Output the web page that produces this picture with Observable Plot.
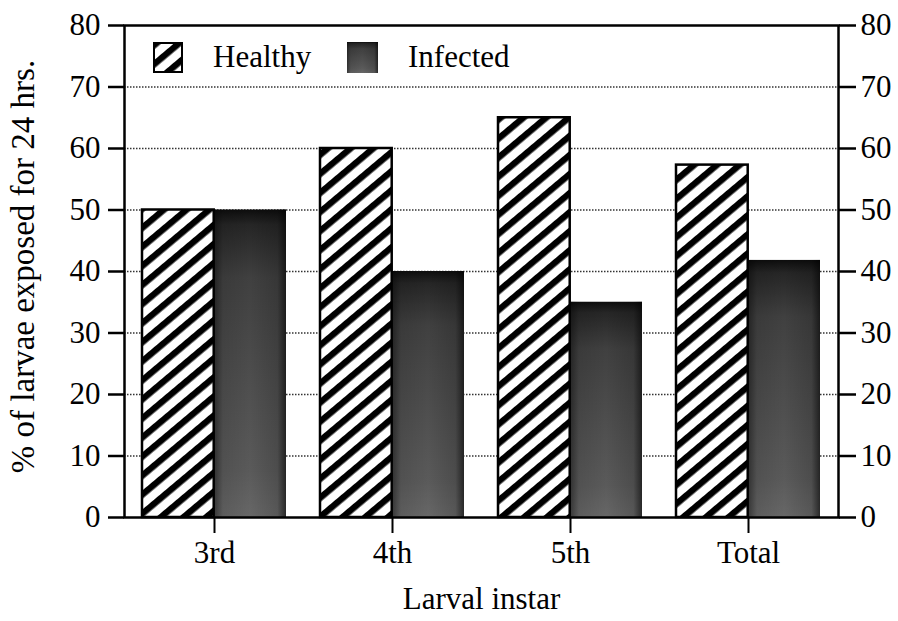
<!DOCTYPE html>
<html><head><meta charset="utf-8">
<script src="https://cdn.jsdelivr.net/npm/d3@7"></script>
<script src="https://cdn.jsdelivr.net/npm/@observablehq/plot@0.6"></script>
<style>
body{margin:0;background:#fff;}
#wrap{position:relative;width:898px;height:621px;font-family:"Liberation Serif","Times New Roman",serif;color:#000;}
.sw{position:absolute;top:42px;}
.lt{position:absolute;top:41px;font-size:31px;line-height:31px;white-space:nowrap;}
</style></head><body>
<svg width="0" height="0" style="position:absolute">
<defs>
<pattern id="hatch" patternUnits="userSpaceOnUse" width="10" height="14.6" patternTransform="rotate(-40)">
<rect width="10" height="14.6" fill="#fff"/>
<rect width="10" height="6.4" fill="#000"/>
</pattern>
<linearGradient id="grayV" x1="0" y1="0" x2="0" y2="1">
 <stop offset="0" stop-color="#0d0d0d"/>
 <stop offset="0.05" stop-color="#262626"/>
 <stop offset="0.22" stop-color="#404040"/>
 <stop offset="0.85" stop-color="#5a5a5a"/>
 <stop offset="1" stop-color="#676767"/>
</linearGradient>
<linearGradient id="grayH" x1="0" y1="0" x2="1" y2="0">
 <stop offset="0" stop-color="#000" stop-opacity="0.45"/>
 <stop offset="0.12" stop-color="#000" stop-opacity="0.1"/>
 <stop offset="0.5" stop-color="#000" stop-opacity="0"/>
 <stop offset="0.88" stop-color="#000" stop-opacity="0.15"/>
 <stop offset="1" stop-color="#000" stop-opacity="0.6"/>
</linearGradient>
</defs></svg>
<div id="wrap">
  <div id="chart"></div>
  <svg class="sw" style="left:153px" width="30" height="31"><rect x="1" y="1" width="28" height="29" fill="url(#hatch)" stroke="#000" stroke-width="2"/></svg>
  <span class="lt" style="left:213px">Healthy</span>
  <svg class="sw" style="left:347px" width="31" height="31"><rect width="31" height="31" fill="url(#grayV)"/><rect width="31" height="31" fill="url(#grayH)"/></svg>
  <span class="lt" style="left:408px">Infected</span>
</div>
<script>
const instars = ["3rd", "4th", "5th", "Total"];
const healthy = [50, 60, 65, 57.3];
const infected = [50, 40, 35, 41.8];
const yTicks = [0, 10, 20, 30, 40, 50, 60, 70, 80];
const gridTicks = [10, 20, 30, 40, 50, 60, 70];
const yLabel = "% of larvae exposed for 24 hrs.";
const xLabel = "Larval instar";

const rows = instars.map((d, i) => ({instar: d, healthy: healthy[i], infected: infected[i]}));

const W = 898, H = 621, mL = 124, mR = 60, mT = 25, mB = 104;
const PI = 0.19, PO = 0.095;
const step = (W - mL - mR) / (instars.length - PI + 2 * PO);
const half = step * (1 - PI) / 2;

const chart = Plot.plot({
  width: W, height: H,
  marginLeft: mL, marginRight: mR, marginTop: mT, marginBottom: mB,
  style: {fontFamily: "'Liberation Serif', 'Times New Roman', serif", fontSize: "31px", color: "#000", background: "transparent"},
  x: {domain: instars, paddingInner: PI, paddingOuter: PO},
  y: {domain: [0, 80]},
  marks: [
    Plot.ruleY(gridTicks, {stroke: "#333", strokeWidth: 1.3, strokeDasharray: "1.5,1.5"}),
    Plot.barY(rows, {x: "instar", y: "infected", fill: "url(#grayV)", insetLeft: half}),
    Plot.barY(rows, {x: "instar", y: "infected", fill: "url(#grayH)", insetLeft: half}),
    Plot.barY(rows, {x: "instar", y: "healthy", fill: "url(#hatch)", stroke: "#000", strokeWidth: 2.5, insetRight: half}),
    Plot.frame({stroke: "#000", strokeWidth: 2.5}),
    Plot.axisY({anchor: "left", ticks: yTicks, tickSize: 16, tickPadding: 8, strokeWidth: 2.5, fontSize: 31, label: null}),
    Plot.axisY({anchor: "right", ticks: yTicks, tickSize: 17, tickPadding: 5, strokeWidth: 2.5, fontSize: 31, label: null}),
    Plot.text([yLabel], {frameAnchor: "left", textAnchor: "middle", rotate: -90, dx: -91, dy: -5, lineAnchor: "bottom", fontSize: 33}),
    Plot.axisX({anchor: "bottom", tickSize: 16, tickPadding: 7, strokeWidth: 2, fontSize: 31,
      label: xLabel, labelAnchor: "center", labelOffset: 91, labelArrow: "none"})
  ]
});
document.getElementById("chart").appendChild(chart);
</script>
</body></html>
